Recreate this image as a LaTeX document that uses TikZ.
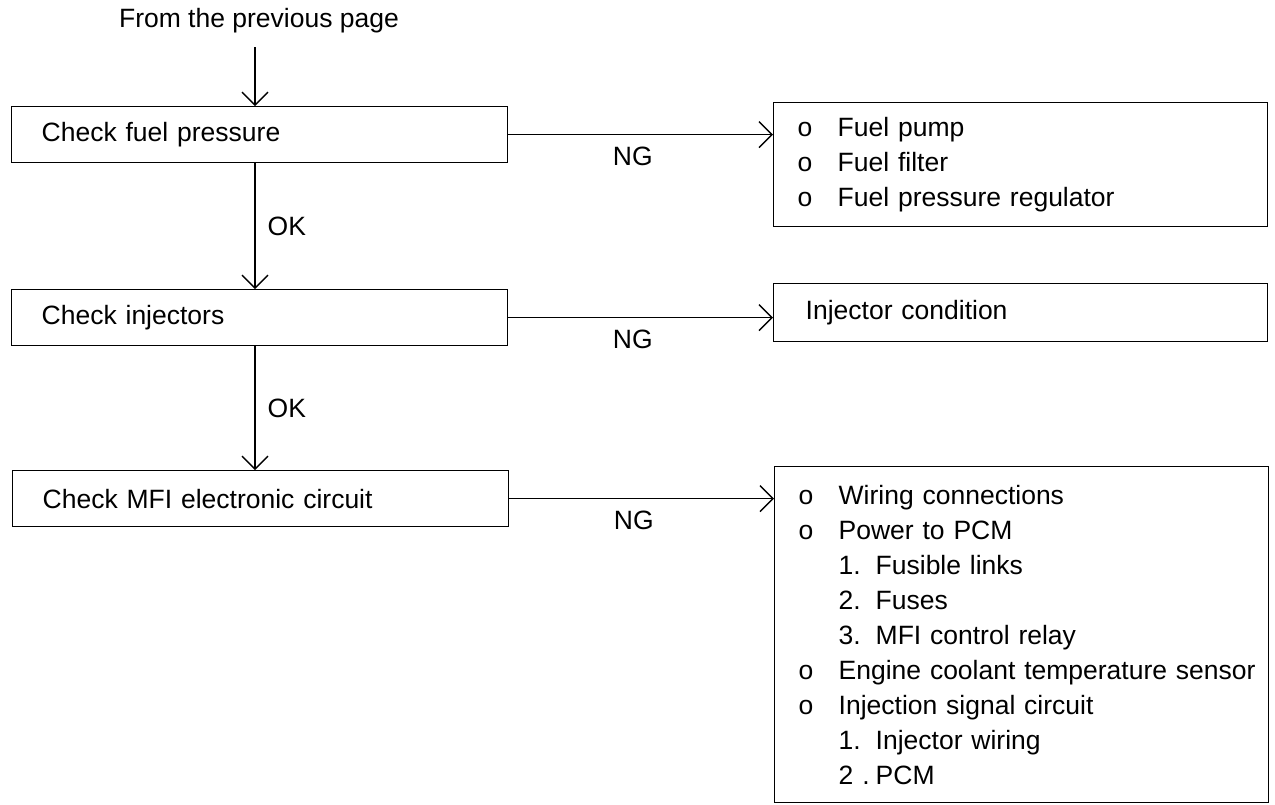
\documentclass[tikz,border=0pt]{standalone}
\usepackage{fontspec}
\setmainfont{Liberation Sans}
\usetikzlibrary{arrows.meta}

\newcommand{\bul}[1]{\mbox{\makebox[40pt][l]{o}#1}}
\newcommand{\numitm}[2]{\mbox{\hspace*{40pt}\makebox[37pt][l]{#1}#2}}

\begin{document}
\begin{tikzpicture}[
  x=1pt,
  y=-1pt,
  every node/.style={font=\fontsize{26.5}{35}\selectfont},
  chkbox/.style={draw=black, line width=1.4pt, anchor=north west, align=left, inner xsep=30pt, text width=436pt, minimum height=56pt},
  resbox/.style={draw=black, line width=1.4pt, anchor=north west, align=left, inner xsep=24pt, text width=446pt},
  flow/.style={line width=1.4pt, -{Straight Barb[length=13pt, width=26pt]}},
  tag/.style={inner sep=0pt}
]
\useasboundingbox (0,0) rectangle (1275,804);

\node (prev) at (259,21) {From the previous page};
\coordinate (in) at (255,47);

\node[chkbox] (chk1) at (11,106) {Check fuel pressure};
\node[chkbox] (chk2) at (11,289) {Check injectors};
\node[chkbox] (chk3) at (12,470) {Check MFI electronic circuit};

\node[resbox, minimum height=124pt] (res1) at (773,102) {\bul{Fuel pump}\\ \bul{Fuel filter}\\ \bul{Fuel pressure regulator}};
\node[resbox, minimum height=58pt, inner xsep=32pt, text width=430pt] (res2) at (773,283) {Injector condition};
\node[resbox, minimum height=336pt] (res3) at (774,466) {\bul{Wiring connections}\\ \bul{Power to PCM}\\
  \numitm{1.}{Fusible links}\\ \numitm{2.}{Fuses}\\ \numitm{3.}{MFI control relay}\\
  \bul{Engine coolant temperature sensor}\\ \bul{Injection signal circuit}\\
  \numitm{1.}{Injector wiring}\\ \numitm{2 .}{PCM}};

\draw[flow] (in) -- (in |- chk1.north);
\draw[flow] (chk1.south -| in) -- node[tag, right=12pt] {OK} (chk2.north -| in);
\draw[flow] (chk2.south -| in) -- node[tag, right=12pt] {OK} (chk3.north -| in);

\draw[flow] (chk1.east) -- node[tag, below=12pt, pos=0.47] {NG} (chk1.east -| res1.west);
\draw[flow] (chk2.east) -- node[tag, below=12pt, pos=0.47] {NG} (chk2.east -| res2.west);
\draw[flow] (chk3.east) -- node[tag, below=12pt, pos=0.47] {NG} (chk3.east -| res3.west);
\end{tikzpicture}
\end{document}
